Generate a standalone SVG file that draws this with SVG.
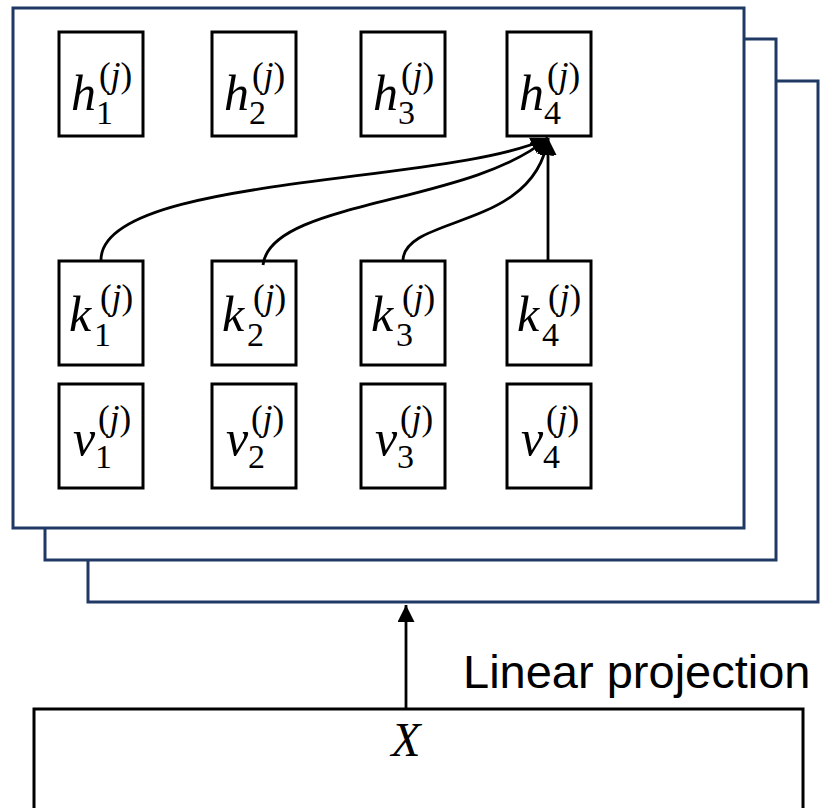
<svg xmlns="http://www.w3.org/2000/svg" width="820" height="808" viewBox="0 0 820 808">
  <style>
    .panel { fill: #ffffff; stroke: #1f3864; stroke-width: 3; }
    .cell { fill: #ffffff; stroke: #000000; stroke-width: 3; }
    .wire { fill: none; stroke: #000000; stroke-width: 2.8; }
    .math { font-family: "Liberation Serif", "DejaVu Serif", serif; font-style: italic; fill: #000000; }
    .base { font-size: 50px; }
    .sub { font-size: 34px; font-style: normal; }
    .sup { font-size: 35px; }
    .up { font-style: normal; }
    .label { font-family: "Liberation Sans", Arial, sans-serif; font-size: 47px; fill: #000000; }
  </style>
  <defs>
    <marker id="head" markerUnits="userSpaceOnUse" markerWidth="20" markerHeight="20" refX="17" refY="8.5" orient="auto">
      <path d="M0,0 L17,8.5 L0,17 Z" fill="#000000"/>
    </marker>
  </defs>

  <rect width="820" height="808" fill="#ffffff"/>

  <!-- stacked head panels, back to front -->
  <g id="panel-3"><rect class="panel" x="88" y="81" width="730" height="521"/></g>
  <g id="panel-2"><rect class="panel" x="45" y="39" width="731" height="521"/></g>
  <g id="panel-1"><rect class="panel" x="13" y="8" width="731" height="520"/></g>

  <!-- outputs h -->
  <g id="h1"><rect class="cell" x="59" y="32" width="84" height="104"/>
    <text class="math"><tspan class="base" x="71" y="110">h</tspan><tspan class="sub" x="96" y="124">1</tspan><tspan class="sup" x="99" y="87"><tspan class="up">(</tspan>j<tspan class="up">)</tspan></tspan></text></g>
  <g id="h2"><rect class="cell" x="212" y="32" width="84" height="104"/>
    <text class="math"><tspan class="base" x="224" y="110">h</tspan><tspan class="sub" x="249" y="124">2</tspan><tspan class="sup" x="252" y="87"><tspan class="up">(</tspan>j<tspan class="up">)</tspan></tspan></text></g>
  <g id="h3"><rect class="cell" x="361" y="32" width="84" height="104"/>
    <text class="math"><tspan class="base" x="373" y="110">h</tspan><tspan class="sub" x="398" y="124">3</tspan><tspan class="sup" x="401" y="87"><tspan class="up">(</tspan>j<tspan class="up">)</tspan></tspan></text></g>
  <g id="h4"><rect class="cell" x="507" y="32" width="84" height="104"/>
    <text class="math"><tspan class="base" x="519" y="110">h</tspan><tspan class="sub" x="544" y="124">4</tspan><tspan class="sup" x="547" y="87"><tspan class="up">(</tspan>j<tspan class="up">)</tspan></tspan></text></g>

  <!-- keys k -->
  <g id="k1"><rect class="cell" x="59" y="261" width="84" height="104"/>
    <text class="math"><tspan class="base" x="69" y="331">k</tspan><tspan class="sub" x="94" y="346">1</tspan><tspan class="sup" x="100" y="309"><tspan class="up">(</tspan>j<tspan class="up">)</tspan></tspan></text></g>
  <g id="k2"><rect class="cell" x="212" y="261" width="84" height="104"/>
    <text class="math"><tspan class="base" x="222" y="331">k</tspan><tspan class="sub" x="247" y="346">2</tspan><tspan class="sup" x="253" y="309"><tspan class="up">(</tspan>j<tspan class="up">)</tspan></tspan></text></g>
  <g id="k3"><rect class="cell" x="361" y="261" width="84" height="104"/>
    <text class="math"><tspan class="base" x="371" y="331">k</tspan><tspan class="sub" x="396" y="346">3</tspan><tspan class="sup" x="402" y="309"><tspan class="up">(</tspan>j<tspan class="up">)</tspan></tspan></text></g>
  <g id="k4"><rect class="cell" x="507" y="261" width="84" height="104"/>
    <text class="math"><tspan class="base" x="517" y="331">k</tspan><tspan class="sub" x="542" y="346">4</tspan><tspan class="sup" x="548" y="309"><tspan class="up">(</tspan>j<tspan class="up">)</tspan></tspan></text></g>

  <!-- values v -->
  <g id="v1"><rect class="cell" x="59" y="384" width="84" height="104"/>
    <text class="math"><tspan class="base" x="73" y="455">v</tspan><tspan class="sub" x="95" y="468">1</tspan><tspan class="sup" x="98" y="430"><tspan class="up">(</tspan>j<tspan class="up">)</tspan></tspan></text></g>
  <g id="v2"><rect class="cell" x="212" y="384" width="84" height="104"/>
    <text class="math"><tspan class="base" x="226" y="455">v</tspan><tspan class="sub" x="248" y="468">2</tspan><tspan class="sup" x="251" y="430"><tspan class="up">(</tspan>j<tspan class="up">)</tspan></tspan></text></g>
  <g id="v3"><rect class="cell" x="361" y="384" width="84" height="104"/>
    <text class="math"><tspan class="base" x="375" y="455">v</tspan><tspan class="sub" x="397" y="468">3</tspan><tspan class="sup" x="400" y="430"><tspan class="up">(</tspan>j<tspan class="up">)</tspan></tspan></text></g>
  <g id="v4"><rect class="cell" x="507" y="384" width="84" height="104"/>
    <text class="math"><tspan class="base" x="521" y="455">v</tspan><tspan class="sub" x="543" y="468">4</tspan><tspan class="sup" x="546" y="430"><tspan class="up">(</tspan>j<tspan class="up">)</tspan></tspan></text></g>

  <!-- input X -->
  <g id="input-x">
    <rect x="34" y="709" width="769" height="120" fill="#ffffff" stroke="#000000" stroke-width="3"/>
    <text class="math" x="406" y="756" font-size="48" text-anchor="middle">X</text>
  </g>

  <g id="projection-label">
    <text class="label" x="463" y="688">Linear projection</text>
  </g>

  <!-- connectors -->
  <g id="connectors">
    <path class="wire" d="M101,260 C101,175 450,185 548,138" marker-end="url(#head)"/>
    <path class="wire" d="M263,265 C270,200 470,205 548,138" marker-end="url(#head)"/>
    <path class="wire" d="M403,260 C405,215 535,230 548,138" marker-end="url(#head)"/>
    <path class="wire" d="M548,261 L548,138" marker-end="url(#head)"/>
    <path class="wire" d="M406,708 L406,605" marker-end="url(#head)"/>
  </g>
</svg>
